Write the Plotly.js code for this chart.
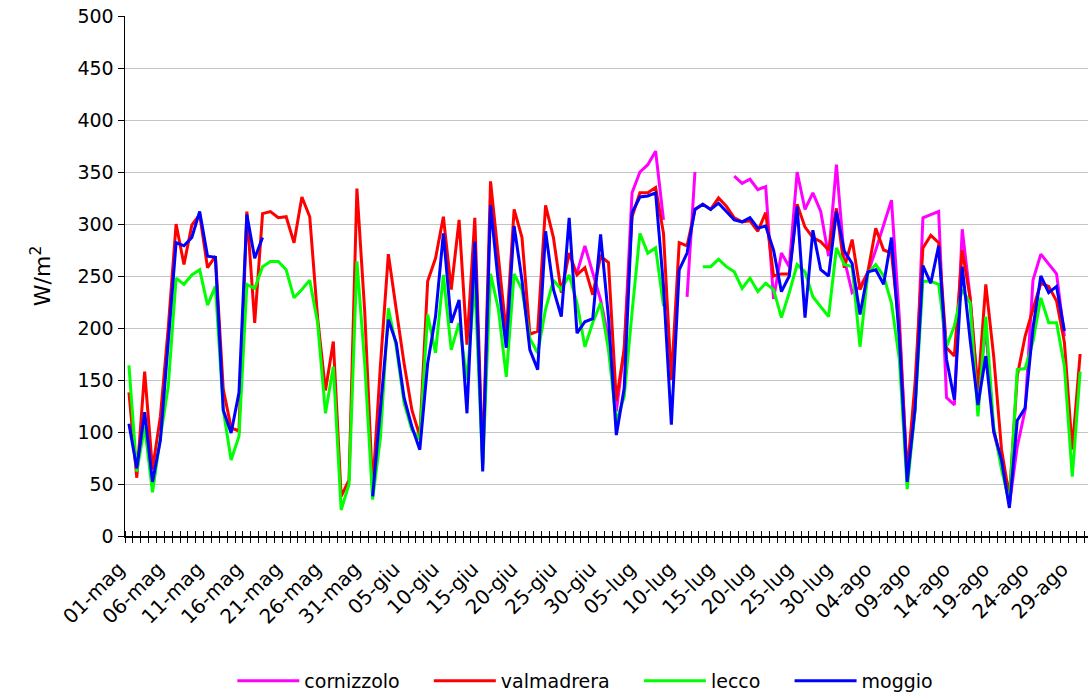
<!DOCTYPE html>
<html>
<head>
<meta charset="utf-8">
<script src="https://cdn.plot.ly/plotly-3.0.1.min.js"></script>
<style>html,body{margin:0;padding:0;background:#fff}#chart{width:1088px;height:700px}</style>
</head>
<body>
<div id="chart"></div>
<script>
// Category axis: days 01-mag ... 31-ago
const monthNames = ['mag', 'giu', 'lug', 'ago'];
const monthDays = [31, 30, 31, 31];
const dayLabels = [];
monthNames.forEach((m, k) => { for (let d = 1; d <= monthDays[k]; d++) dayLabels.push((d < 10 ? '0' : '') + d + '-' + m); });
const labelStep = 5;

const cornizzolo = [
null,null,null,null,null,null,null,null,null,null,
null,null,null,null,null,null,null,null,null,null,
null,null,null,null,null,null,null,null,null,null,
null,null,null,null,null,null,null,null,null,null,
null,null,null,null,null,null,null,null,null,null,
null,null,null,null,null,null,null,253,279,253,
227,190,120,180,330,350,357,370,304,null,
null,230,350,null,null,null,null,346,339,343,
333,336,228,272,259,350,314,330,312,269,
357,266,234,240,253,275,299,323,210,55,
121,306,309,312,133,126,295,230,135,200,
100,70,30,86,121,246,271,261,252,192,
null,null,null];

const valmadrera = [
138,56,158,64,115,200,300,261,299,309,
258,269,141,104,101,312,205,310,312,306,
307,282,326,307,210,140,187,38,54,334,
215,45,165,271,218,166,121,96,245,267,
307,237,304,184,306,70,341,266,195,314,
287,194,197,318,287,234,272,251,258,232,
269,263,130,179,307,330,330,335,291,150,
282,279,314,319,314,325,317,306,302,303,
293,311,250,252,252,319,297,287,283,275,
315,258,285,237,254,296,275,272,200,60,
147,277,289,282,181,173,275,229,141,242,
173,83,38,154,192,218,243,240,226,186,
83,175,null];

const lecco = [
164,62,105,42,95,144,248,242,251,256,
222,240,121,73,96,242,238,259,264,264,
256,229,237,246,205,118,163,25,50,264,
165,35,95,219,182,128,102,93,213,176,
251,179,205,150,245,65,252,218,153,252,
237,190,176,218,246,237,251,224,182,205,
224,179,110,134,215,291,272,277,221,null,
null,null,null,259,259,266,259,254,238,248,
235,243,237,210,234,261,254,230,220,211,
277,261,259,182,253,261,250,224,170,45,
121,245,245,242,182,202,237,224,115,211,
105,64,32,160,161,187,229,205,205,163,
57,158,null];

const moggio = [
108,65,119,52,92,188,282,279,287,312,
269,268,121,99,138,309,267,287,null,null,
null,null,null,null,null,null,null,null,null,null,
null,38,125,208,186,133,105,83,166,211,
291,205,227,118,283,62,318,243,181,298,
246,179,160,293,237,211,306,195,206,209,
290,210,97,142,311,326,327,330,240,107,
256,272,314,319,314,320,312,304,302,306,
296,298,275,235,250,317,210,294,256,250,
312,274,262,213,254,256,242,287,190,52,
123,260,243,279,170,131,259,189,126,173,
101,73,27,111,123,200,250,234,240,197,
null,null,null];

const seriesNames = ['cornizzolo', 'valmadrera', 'lecco', 'moggio'];
const seriesData = [cornizzolo, valmadrera, lecco, moggio];
const seriesColors = ['#FF00FF', '#FF0000', '#00FF00', '#0000FF'];
const legendPad = '\u00a0\u00a0\u00a0\u00a0';

const xIdx = dayLabels.map((_, i) => i);
const traces = seriesNames.map((n, k) => ({
  type: 'scatter', mode: 'lines',
  name: k < seriesNames.length - 1 ? n + legendPad : n,
  x: xIdx, y: seriesData[k],
  line: { color: seriesColors[k], width: 3 },
  connectgaps: false, hoverinfo: 'skip'
}));

const tickVals = xIdx.filter(i => i % labelStep === 0);
const tickText = tickVals.map(i => dayLabels[i]);
const font = 'DejaVu Sans, Verdana, sans-serif';
const xRange = [-0.5, 122.0];

const layout = {
  width: 1088, height: 700,
  margin: { l: 125, r: 0, t: 16, b: 163 },
  paper_bgcolor: '#fff', plot_bgcolor: '#fff',
  font: { family: font, size: 19, color: '#000' },
  showlegend: true,
  legend: { orientation: 'h', x: 0.478, xanchor: 'center', y: -0.28, yanchor: 'middle',
            font: { family: font, size: 19, color: '#000' }, itemwidth: 62, traceorder: 'normal' },
  xaxis: {
    range: xRange, tickmode: 'array', tickvals: tickVals, ticktext: tickText,
    tickangle: -45, ticks: '', showgrid: false, zeroline: false,
    showline: true, linecolor: '#000', linewidth: 1.5,
    ticklabelstandoff: 12, ticklabelshift: -10,
    minor: { tick0: 0.5, dtick: 1, ticks: 'outside', ticklen: 5, tickcolor: '#000', tickwidth: 1, showgrid: false },
    tickfont: { family: font, size: 20, color: '#000' }
  },
  xaxis2: {
    overlaying: 'x', matches: 'x', anchor: 'y', side: 'bottom', showticklabels: false,
    ticks: '', showgrid: false, zeroline: false, showline: false,
    minor: { tick0: 0.5, dtick: 1, ticks: 'inside', ticklen: 5, tickcolor: '#000', tickwidth: 1, showgrid: false }
  },
  yaxis: {
    range: [0, 500], dtick: 50, tick0: 0, ticks: 'outside', ticklen: 6, tickcolor: '#000',
    showline: true, linecolor: '#000', linewidth: 1.5,
    showgrid: true, gridcolor: '#c4c4c4', gridwidth: 1, zeroline: false,
    tickfont: { family: font, size: 19, color: '#000' },
    title: { text: 'W/m<sup>2</sup>', font: { family: font, size: 22, color: '#000' }, standoff: 20 }
  }
};

traces.push({ type: 'scatter', mode: 'lines', x: [], y: [], xaxis: 'x2', showlegend: false, hoverinfo: 'skip' });

Plotly.newPlot('chart', traces, layout, { displayModeBar: false, staticPlot: true });
</script>
</body>
</html>
